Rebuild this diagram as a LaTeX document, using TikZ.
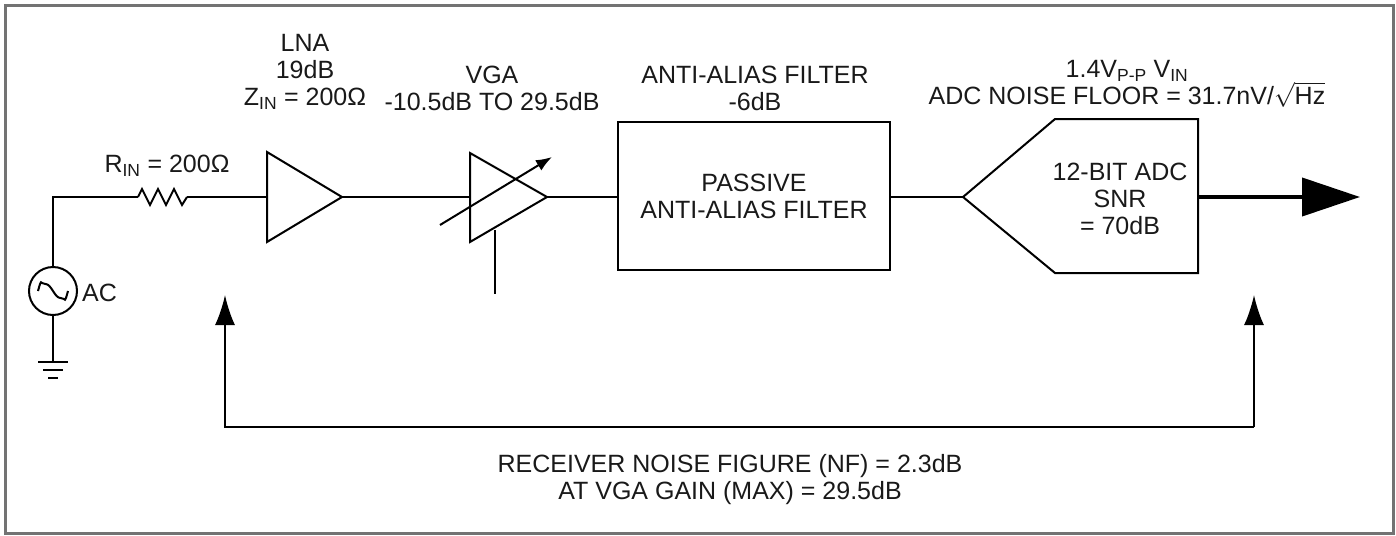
\documentclass[tikz,border=0pt]{standalone}
\usepackage{fontspec}
\setmainfont{Liberation Sans}
\usetikzlibrary{arrows.meta}
\begin{document}
\begin{tikzpicture}[x=1pt,y=-1pt,
  wire/.style={line width=2pt,black},
  lbl/.style={font=\fontsize{25}{27}\selectfont,align=center,inner sep=0pt,text=black!90},
  fb/.style={line width=2pt,-{Latex[length=30pt,width=20pt]}}]
\useasboundingbox (0,0) rectangle (1396,535);
\draw[line width=3pt,black!55] (5,6) rectangle (1393,533);
% AC source
\node[circle,draw,line width=2pt,minimum size=48pt,inner sep=0pt] (ac) at (53,291) {};
\draw[line width=2pt] (ac.center) ++(-15,0) .. controls +(4,-14) and +(-6,0) .. ++(7.5,-7)
   .. controls +(6,0) and +(-6,0) .. ++(15,14) .. controls +(6,0) and +(-4,14) .. ++(7.5,-7);
\node[lbl,anchor=west] (aclbl) at (82,293) {AC};
% ground
\coordinate (gnd) at (53,362);
\draw[wire] (ac.south) -- (gnd);
\draw[line width=2pt] (38,362) -- (68,362) (43,370) -- (63,370) (48,378) -- (58,378);
% resistor
\coordinate (r1) at (138,197);
\coordinate (r2) at (187,197);
\draw[wire] (ac.north) |- (r1);
\draw[wire,line join=miter] (r1) -- (142,189) -- (150,205) -- (158,189) -- (166,205) -- (174,189) -- (182,205) -- (r2);
\node[lbl] (rin) at (167,166) {R\textsubscript{IN} = 200Ω};
% LNA
\coordinate (lnain) at (267,197);
\coordinate (lnaout) at (342,197);
\draw[line width=2pt,line join=miter] (267,152) -- (lnaout) -- (267,242) -- cycle;
\draw[wire] (r2) -- (lnain);
\node[lbl] (lnalbl) at (305,72) {LNA\\19dB\\Z\textsubscript{IN} = 200Ω};
% VGA
\coordinate (vgain) at (470,197);
\coordinate (vgaout) at (547,197);
\draw[line width=2pt,line join=miter] (470,153) -- (vgaout) -- (470,242) -- cycle;
\draw[wire] (lnaout) -- (vgain);
\draw[line width=2pt,-{Latex[length=16pt,width=12pt]}] (440,225) -- (552,157);
\coordinate (vgac1) at (495,230);
\coordinate (vgac2) at (495,294);
\draw[wire] (vgac1) -- (vgac2);
\node[lbl] (vgalbl) at (492,88) {VGA\\-10.5dB TO 29.5dB};
% filter
\node[draw,line width=2pt,minimum width=272pt,minimum height=148pt,inner sep=0pt,
  font=\fontsize{25}{27}\selectfont,align=center,text=black!90] (filt) at (754,196) {PASSIVE\\ANTI-ALIAS FILTER};
\draw[wire] (vgaout) -- (filt.west |- vgaout);
\node[lbl] (filtlbl) at (755,88) {ANTI-ALIAS FILTER\\-6dB};
% ADC
\coordinate (adcin) at (963,197);
\coordinate (adcout) at (1198,197);
\draw[line width=2pt,line join=miter] (adcin) -- (1055,119) -- (1198,119) -- (1198,273) -- (1055,273) -- cycle;
\node[lbl] (adctxt) at (1120,199) {12-BIT ADC\\SNR\\= 70dB};
\draw[wire] (filt.east |- adcin) -- (adcin);
\coordinate (outend) at (1360,197);
\draw[line width=4pt,-{Triangle[length=58pt,width=38pt]}] (adcout) -- (outend);
\node[lbl] (adclbl) at (1127,84) {1.4V\textsubscript{P-P} V\textsubscript{IN}\\ADC NOISE FLOOR = 31.7nV/\(\sqrt{\mbox{Hz}}\)};
% noise figure bracket
\coordinate (fbl) at (225,427);
\coordinate (fbr) at (1254,427);
\coordinate (fbltip) at (225,295);
\coordinate (fbrtip) at (1254,295);
\draw[fb] (fbr) -- (fbl) -- (fbltip);
\draw[fb] (fbr) -- (fbrtip);
\node[lbl] (nf) at (730,480) {RECEIVER NOISE FIGURE (NF) = 2.3dB\\AT VGA GAIN (MAX) = 29.5dB};
\end{tikzpicture}
\end{document}
